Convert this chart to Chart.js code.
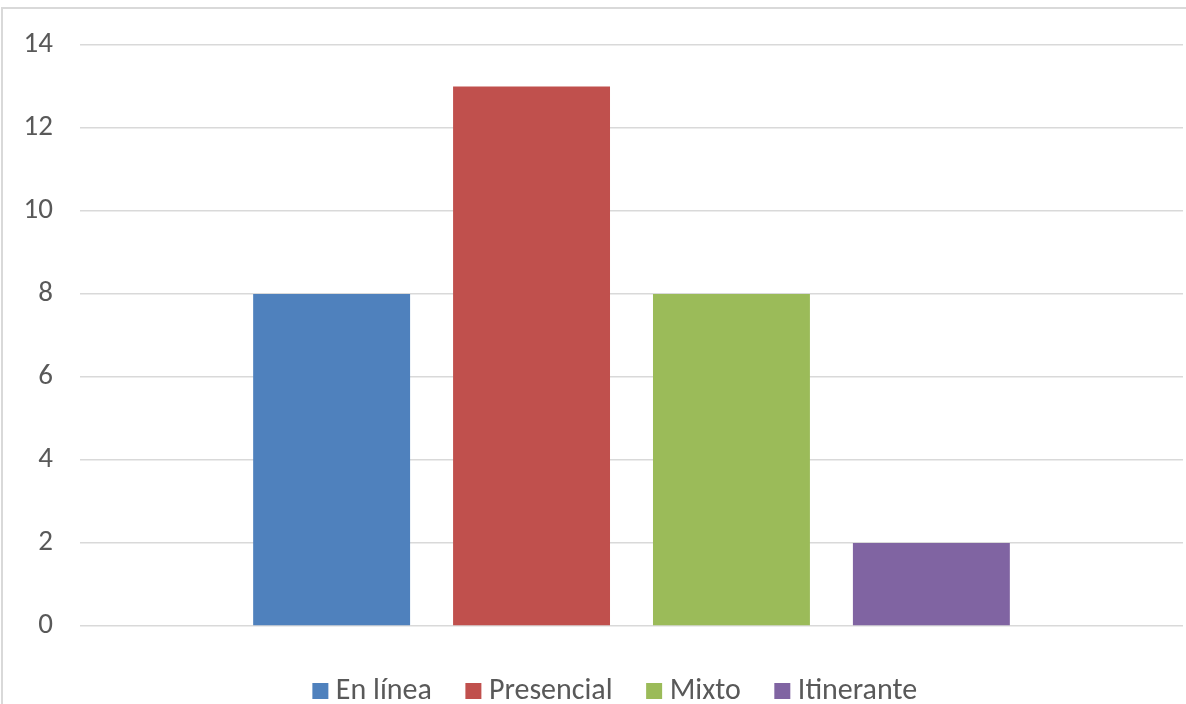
<!DOCTYPE html>
<html>
<head>
<meta charset="utf-8">
<script src="https://cdn.jsdelivr.net/npm/chart.js@4.4.1/dist/chart.umd.min.js"></script>
<style>
  html, body { margin: 0; padding: 0; background: #ffffff; overflow: hidden; }
  #wrap { position: relative; width: 1186px; height: 704px; }
  canvas { display: block; }
</style>
</head>
<body>
<div id="wrap"><canvas id="c" width="1186" height="704"></canvas></div>
<script>
// ---- data ----
const categories = [''];
const seriesNames = ['En línea', 'Presencial', 'Mixto', 'Itinerante'];
const enLinea = [8];
const presencial = [13];
const mixto = [8];
const itinerante = [2];
const yTicks = [0, 2, 4, 6, 8, 10, 12, 14];

const colors = ['#4F81BD', '#C0504D', '#9BBB59', '#8064A2'];
const seriesValues = [enLinea, presencial, mixto, itinerante];

const FONT = '"Carlito", "Lato", sans-serif';
const TEXT = '#595959';

const borderPlugin = {
  id: 'outerBorder',
  beforeDraw(chart) {
    const ctx = chart.ctx;
    ctx.save();
    ctx.fillStyle = '#ffffff';
    ctx.fillRect(0, 0, chart.width, chart.height);
    ctx.strokeStyle = '#d9d9d9';
    ctx.lineWidth = 2;
    ctx.beginPath();
    ctx.moveTo(2, 704);
    ctx.lineTo(2, 8);
    ctx.lineTo(1186, 8);
    ctx.stroke();
    ctx.restore();
  }
};

const LEGEND_SHIFT = 27;
const legendFitPlugin = {
  id: 'legendFit',
  afterInit(chart) {
    const lg = chart.legend;
    if (!lg) return;
    const orig = lg.fit;
    lg.fit = function () {
      orig.call(this);
      this.height = 69;
    };
  },
  afterLayout(chart) {
    const lg = chart.legend;
    if (!lg) return;
    lg.left += LEGEND_SHIFT;
    lg.right += LEGEND_SHIFT;
  }
};

new Chart(document.getElementById('c'), {
  type: 'bar',
  data: {
    labels: categories,
    datasets: seriesNames.map((name, i) => ({
      label: name,
      data: seriesValues[i],
      backgroundColor: colors[i],
      borderWidth: 0,
      categoryPercentage: 0.725,
      barPercentage: 0.785
    }))
  },
  options: {
    responsive: false,
    animation: false,
    devicePixelRatio: 1,
    layout: { padding: { left: 0, right: 3, top: 45, bottom: 0 } },
    plugins: {
      legend: {
        position: 'bottom',
        align: 'center',
        labels: {
          usePointStyle: true,
          pointStyle: 'rect',
          boxWidth: 1,
          boxHeight: 16,
          padding: 41,
          color: TEXT,
          font: { family: FONT, size: 30 }
        }
      },
      tooltip: { enabled: false }
    },
    scales: {
      x: {
        grid: { display: false },
        border: { display: false },
        ticks: { display: false },
        afterFit(scale) { scale.height = 9; }
      },
      y: {
        min: 0,
        max: 14,
        afterBuildTicks(scale) { scale.ticks = yTicks.map(v => ({ value: v })); },
        grid: { color: '#d9d9d9', lineWidth: 1.5, drawTicks: false },
        border: { display: false },
        ticks: {
          padding: 27,
          color: TEXT,
          font: { family: FONT, size: 29 }
        },
        afterFit(scale) { scale.width = 80; }
      }
    }
  },
  plugins: [borderPlugin, legendFitPlugin]
});
</script>
</body>
</html>
